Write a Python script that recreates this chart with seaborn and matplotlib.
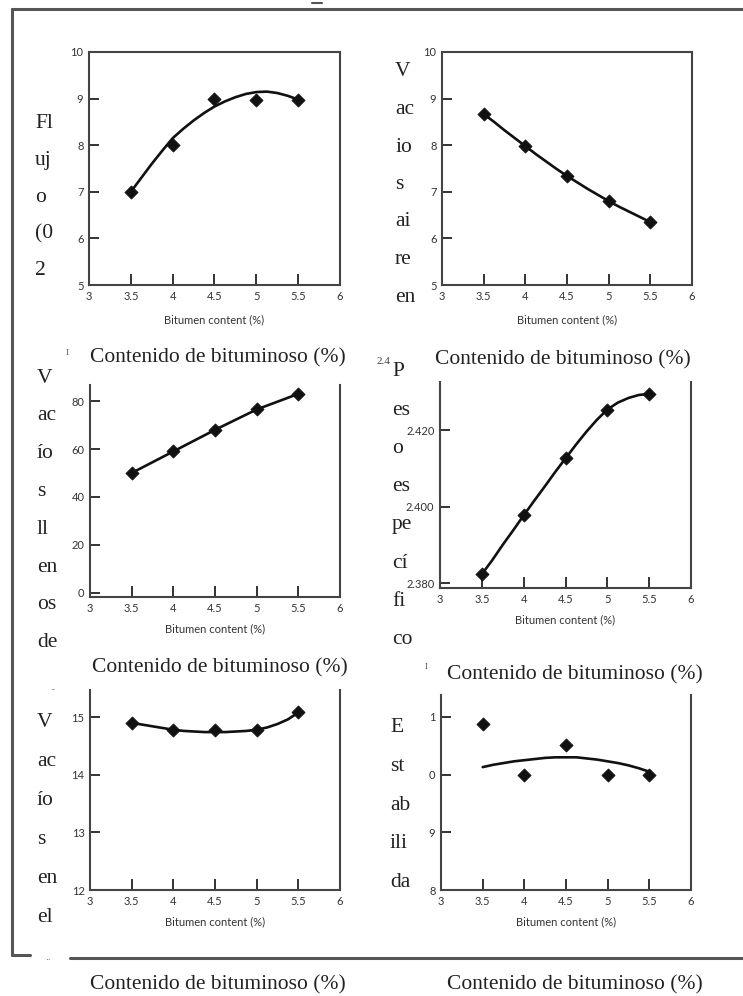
import matplotlib
matplotlib.use("Agg")
import matplotlib.pyplot as plt
import seaborn as sns
from matplotlib.lines import Line2D

W, H = 743, 996

# datos
bitumen = [3.5, 4.0, 4.5, 5.0, 5.5]
curva_x = [3.5, 3.625, 3.75, 3.875, 4.0, 4.125, 4.25, 4.375, 4.5, 4.625, 4.75,
           4.875, 5.0, 5.125, 5.25, 5.375, 5.5]

flujo_pts = [7.0, 8.0, 9.0, 8.97, 8.97]
flujo_curva = [7.0, 7.3, 7.6, 7.88, 8.15, 8.35, 8.53, 8.69, 8.83, 8.94, 9.03,
               9.1, 9.14, 9.15, 9.12, 9.06, 8.98]

aire_pts = [8.67, 7.98, 7.34, 6.8, 6.35]
aire_curva = [8.67, 8.5, 8.32, 8.15, 7.98, 7.81, 7.65, 7.49, 7.34, 7.2, 7.06,
              6.93, 6.8, 6.68, 6.57, 6.46, 6.35]

llenos_pts = [50, 59, 68, 76.5, 83]
llenos_curva = [50, 59, 68, 76.5, 83]

peso_pts = [2.3823, 2.3977, 2.4126, 2.4254, 2.4295]
peso_curva = [2.3823, 2.386, 2.390, 2.3938, 2.3977, 2.4015, 2.4052, 2.409,
              2.4126, 2.4162, 2.4196, 2.4227, 2.4254, 2.4272, 2.4284, 2.4292, 2.4295]

vam_pts = [14.9, 14.77, 14.77, 14.77, 15.08]
vam_curva = [14.9, 14.87, 14.84, 14.81, 14.78, 14.76, 14.75, 14.74, 14.74, 14.74,
             14.75, 14.76, 14.78, 14.82, 14.88, 14.96, 15.08]

estab_pts = [10.88, 10.0, 10.52, 10.0, 10.0]
estab_curva = [10.13, 10.17, 10.2, 10.23, 10.25, 10.27, 10.29, 10.3, 10.3, 10.3,
               10.28, 10.26, 10.23, 10.2, 10.16, 10.11, 10.05]

x_ticks = [3, 3.5, 4, 4.5, 5, 5.5, 6]
x_labels = ["3", "3.5", "4", "4.5", "5", "5.5", "6"]

sns.set_style("white")
plt.rcParams['font.family'] = ['Lato', 'DejaVu Sans']

fig = plt.figure(figsize=(W / 100, H / 100), dpi=100)
GRIS = '#333333'
SERIF = 'Liberation Serif'


def panel(rect, ylim, yticks, ylabels, pts, cx, cy, top=True, pad_x=7):
    l, t, r, b = rect
    ax = fig.add_axes([l / W, 1 - b / H, (r - l) / W, (b - t) / H])
    sns.lineplot(x=cx, y=cy, ax=ax, color='#111111', lw=1.9)
    sns.scatterplot(x=bitumen, y=pts, ax=ax, marker='D', s=45, color='#111111',
                    edgecolor='#111111', zorder=3)
    ax.set_xlim(3, 6)
    ax.set_ylim(*ylim)
    ax.set_xticks(x_ticks)
    ax.set_xticklabels(x_labels)
    ax.set_yticks(yticks)
    ax.set_yticklabels(ylabels)
    ax.tick_params(axis='x', direction='in', length=8, width=1.4, pad=4,
                   labelsize=8, colors=GRIS)
    ax.tick_params(axis='y', direction='in', length=7, width=1.4, pad=4,
                   labelsize=8, colors=GRIS)
    ax.tick_params(left=True, bottom=True)
    for s in ax.spines.values():
        s.set_linewidth(1.5)
        s.set_color('#444444')
    ax.spines['top'].set_visible(top)
    ax.set_xlabel('Bitumen content (%)', fontsize=8, color=GRIS, labelpad=pad_x)
    ax.set_ylabel('')
    return ax


panel((89, 52, 340, 285), (5, 10), [5, 6, 7, 8, 9, 10],
      ['5', '6', '7', '8', '9', '10'], flujo_pts, curva_x, flujo_curva, pad_x=9)
panel((442, 52, 692, 285), (5, 10), [5, 6, 7, 8, 9, 10],
      ['5', '6', '7', '8', '9', '10'], aire_pts, curva_x, aire_curva, pad_x=9)
panel((90, 385, 340, 597), (-1.7, 86.7), [0, 20, 40, 60, 80],
      ['0', '20', '40', '60', '80'], llenos_pts, bitumen, llenos_curva, top=False)
panel((440, 382, 691, 588), (2.3787, 2.4326), [2.38, 2.40, 2.42],
      ['2.380', '2.400', '2.420'], peso_pts, curva_x, peso_curva, top=False)
panel((90, 690, 340, 890), (12, 15.47), [12, 13, 14, 15],
      ['12', '13', '14', '15'], vam_pts, curva_x, vam_curva, top=False)
panel((441, 695, 691, 890), (8, 11.38), [8, 9, 10, 11],
      ['8', '9', '0', '1'], estab_pts, curva_x, estab_curva, top=False)

# etiquetas verticales partidas
def columna(x, y0, trozos, paso):
    for i, s in enumerate(trozos):
        fig.text(x / W, 1 - (y0 + i * paso) / H, s, ha='left', va='center',
                 family=SERIF, fontsize=15.5, color='#222222')

columna(35, 124, ['Fl', 'uj', 'o', '(0', '2'], 36.5)
columna(395, 72, ['V', 'ac', 'io', 's', 'ai', 're', 'en'], 37.5)
columna(37, 378, ['V', 'ac', 'ío', 's', 'll', 'en', 'os', 'de'], 37.8)
columna(392, 372, ['P', 'es', 'o', 'es', 'pe', 'cí', 'fi', 'co'], 38.2)
columna(37, 722, ['V', 'ac', 'ío', 's', 'en', 'el'], 39)
columna(390, 728, ['E', 'st', 'ab', 'ili', 'da'], 38.5)

# titulos en espanol
titulo = 'Contenido de bituminoso (%)'
for cx, cy in [(218, 358), (563, 360), (220, 668), (575, 675), (218, 985), (575, 985)]:
    fig.text(cx / W, 1 - cy / H, titulo, ha='center', va='center',
             family=SERIF, fontsize=15.5, color='#222222')

# marcas sueltas
for x, y, s, fs in [(66, 353, 'I', 6), (377, 361, '2.4', 8), (425, 667, 'I', 6),
                    (52, 690, '-', 6), (45, 960, '··', 6)]:
    fig.text(x / W, 1 - y / H, s, ha='left', va='center', family=SERIF,
             fontsize=fs, color='#444444')

# marco
def linea(xs, ys, lw=2.2):
    fig.add_artist(Line2D([v / W for v in xs], [1 - v / H for v in ys],
                          color='#555555', lw=lw))

linea([12, 743], [9, 9])
linea([12, 12], [9, 955])
linea([12, 30], [955, 955])
linea([70, 743], [958, 958])
linea([312, 322], [3, 3], lw=1.5)

fig.savefig('out.png', dpi=100)
